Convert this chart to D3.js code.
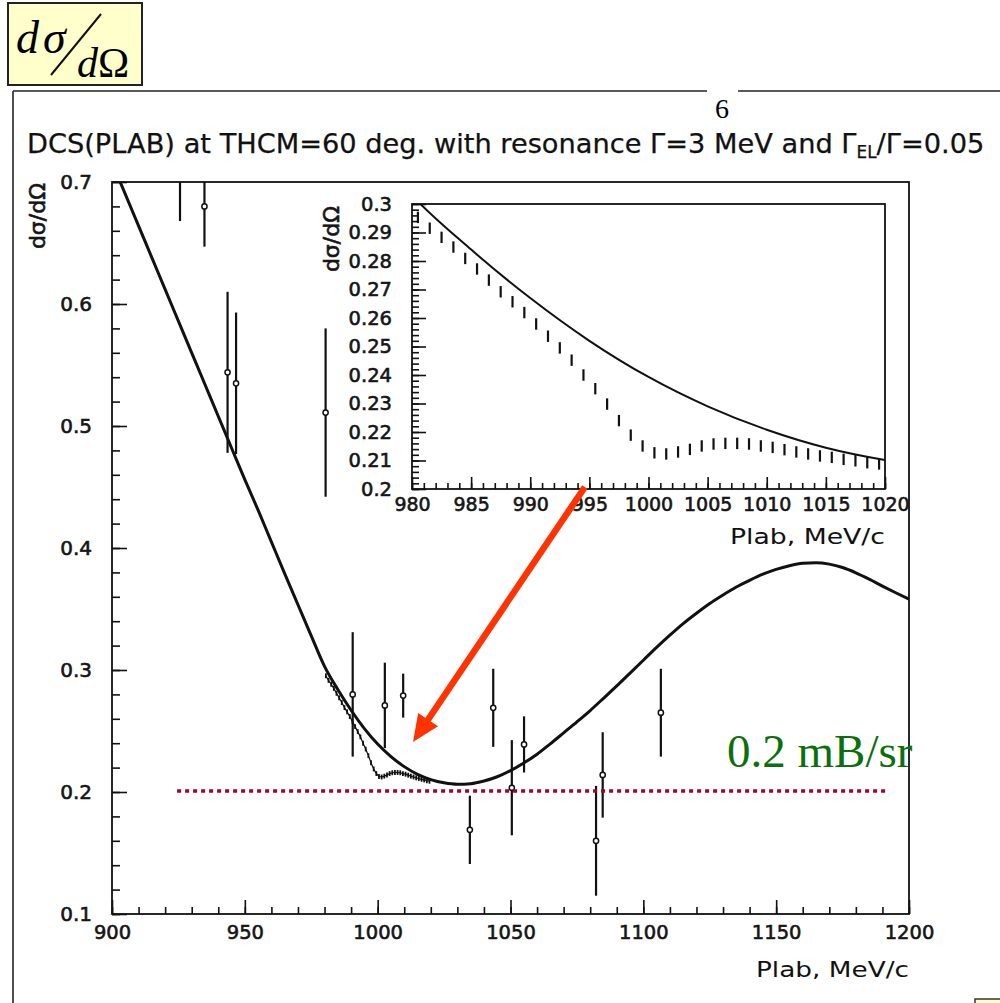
<!DOCTYPE html>
<html><head><meta charset="utf-8">
<script src="https://cdn.jsdelivr.net/npm/d3@7"></script>
<style>html,body{margin:0;padding:0;background:#fff;} svg{display:block}</style>
</head><body>
<svg id="chart" width="1000" height="1003"></svg>
<script>
// ---------------- DATA ----------------
// Smooth calculation (no resonance), Plab in MeV/c
const smoothP = [900,905,910,915,920,925,930,935,940,945,950,955,960,965,970,975,980,985,990,995,1000,1005,1010,1015,1020,1025,1030,1035,1040,1045,1050,1055,1060,1065,1070,1075,1080,1085,1090,1095,1100,1105,1110,1115,1120,1125,1130,1135,1140,1145,1150,1155,1160,1165,1170,1175,1180,1185,1190,1195,1200];
const smoothV = [0.716,0.690,0.664,0.638,0.612,0.586,0.560,0.534,0.508,0.482,0.456,0.431,0.405,0.379,0.3535,0.3280,0.3030,0.2840,0.2670,0.2520,0.2393,0.2290,0.2208,0.2145,0.2102,0.2075,0.2063,0.2068,0.2090,0.2125,0.2175,0.2238,0.2310,0.2395,0.2485,0.2575,0.2668,0.2768,0.2870,0.2975,0.3080,0.3185,0.3285,0.3380,0.3465,0.3545,0.3615,0.3680,0.3735,0.3785,0.3825,0.3855,0.3875,0.3880,0.3868,0.3840,0.3797,0.3745,0.3688,0.3633,0.3580];
// Calculation with resonance (points with small errors)
const resP = [980.5,981.5,982.5,983.5,984.5,985.5,986.5,987.5,988.5,989.5,990.5,991.5,992.5,993.5,994.5,995.5,996.5,997.5,998.5,999.5,1000.5,1001.5,1002.5,1003.5,1004.5,1005.5,1006.5,1007.5,1008.5,1009.5,1010.5,1011.5,1012.5,1013.5,1014.5,1015.5,1016.5,1017.5,1018.5,1019.5];
const resV = [0.2953,0.2915,0.2883,0.2849,0.2809,0.2772,0.2733,0.2692,0.2657,0.2619,0.2579,0.2536,0.2495,0.2452,0.2400,0.2352,0.2298,0.2240,0.2189,0.2151,0.2127,0.2123,0.2130,0.2139,0.2151,0.2158,0.2160,0.2160,0.2158,0.2151,0.2146,0.2138,0.2130,0.2123,0.2116,0.2111,0.2104,0.2099,0.2092,0.2088];
const resErr = 0.002;
// Experimental points
const expP = [925.6,934.8,943.5,946.7,980.4,990.6,1002.7,1009.6,1034.7,1043.5,1050.5,1055.1,1082.2,1084.7,1106.6];
const expV = [0.710,0.680,0.544,0.535,0.511,0.280,0.271,0.279,0.169,0.269,0.2035,0.239,0.160,0.214,0.265];
const expE = [0.042,0.033,0.066,0.058,0.069,0.051,0.035,0.018,0.028,0.032,0.039,0.023,0.045,0.035,0.036];
// Tick labels
const mainXTicks = [900,950,1000,1050,1100,1150,1200];
const mainYTicks = [0.1,0.2,0.3,0.4,0.5,0.6,0.7];
const insetXTicks = [980,985,990,995,1000,1005,1010,1015,1020];
const insetYTicks = [0.2,0.21,0.22,0.23,0.24,0.25,0.26,0.27,0.28,0.29,0.3];
// Annotations
const refLevel = 0.2, refFrom = 924.5, refTo = 1191;
const refLabel = "0.2 mB/sr";
const arrowFrom = [1078, 0.45], arrowTo = [1013.3, 0.241];
const titleText = "DCS(PLAB) at THCM=60 deg. with resonance \u0393=3 MeV and \u0393";
const pageNumber = "6";

// ---------------- DRAW ----------------
const svg = d3.select('#chart');
const FONT = "'DejaVu Sans', sans-serif";
const SERIF = "'Liberation Serif', 'Times New Roman', serif";

// page frame
svg.append('line').attr('x1',13).attr('y1',91).attr('x2',707).attr('y2',91).attr('stroke','#222').attr('stroke-width',1.6);
svg.append('line').attr('x1',738).attr('y1',91).attr('x2',1000).attr('y2',91).attr('stroke','#222').attr('stroke-width',1.6);
svg.append('line').attr('x1',13).attr('y1',91).attr('x2',13).attr('y2',1003).attr('stroke','#222').attr('stroke-width',1.6);
svg.append('text').attr('x',722).attr('y',118).attr('text-anchor','middle').attr('font-family',SERIF).attr('font-size',28).text(pageNumber);

// yellow formula box
svg.append('rect').attr('x',8).attr('y',3).attr('width',134).attr('height',82).attr('fill','#ffffcc').attr('stroke','#222').attr('stroke-width',2);
const fa = svg.append('text').attr('x',16).attr('y',53).attr('font-family',SERIF).attr('font-size',46).attr('font-style','italic');
fa.append('tspan').text('d');
fa.append('tspan').attr('dx',4).text('\u03c3');
svg.append('line').attr('x1',101).attr('y1',14).attr('x2',51).attr('y2',75).attr('stroke','#111').attr('stroke-width',2);
const fb = svg.append('text').attr('x',77).attr('y',77).attr('font-family',SERIF).attr('font-size',42);
fb.append('tspan').attr('font-style','italic').text('d');
fb.append('tspan').text('\u03a9');
// small box bottom-right
svg.append('rect').attr('x',975).attr('y',999).attr('width',40).attr('height',10).attr('fill','#ffffcc').attr('stroke','#333').attr('stroke-width',1.5);

// title
const title = svg.append('text').attr('x',27).attr('y',153).attr('font-family',FONT).attr('font-size',22).attr('fill','#111')
  .attr('stroke','#111').attr('stroke-width',0.25);
title.append('tspan').text(titleText);
title.append('tspan').attr('font-size','62%').attr('dy','0.3em').text('EL');
title.append('tspan').attr('dy','-0.19em').text('/\u0393=0.05');
{
  const w = title.node().getBBox().width;
  title.attr('font-size', 22*958/w);
}

// ---------- main plot ----------
const X0=112, X1=909, Y0=914, Y1=182;
const x = d3.scaleLinear().domain([900,1200]).range([X0,X1]);
const y = d3.scaleLinear().domain([0.1,0.7]).range([Y0,Y1]);
svg.append('clipPath').attr('id','mclip').append('rect').attr('x',X0).attr('y',Y1).attr('width',X1-X0).attr('height',Y0-Y1);

function styleAxis(g, fs){
  g.select('.domain').remove();
  g.selectAll('line').attr('stroke','#111').attr('stroke-width',1.6);
  g.selectAll('text').attr('font-family',FONT).attr('font-size',fs).attr('fill','#151515')
    .attr('stroke','#151515').attr('stroke-width',0.6);
}
// minor ticks
svg.append('g').attr('transform',`translate(0,${Y0})`).call(d3.axisBottom(x).ticks(30).tickSizeInner(-7).tickSizeOuter(0).tickFormat('')).call(g=>styleAxis(g,0));
svg.append('g').attr('transform',`translate(${X0},0)`).call(d3.axisLeft(y).ticks(30).tickSizeInner(-8).tickSizeOuter(0).tickFormat('')).call(g=>styleAxis(g,0));
// major ticks
svg.append('g').attr('transform',`translate(0,${Y0})`).call(d3.axisBottom(x).tickValues(mainXTicks).tickSizeInner(-14).tickSizeOuter(0).tickPadding(11).tickFormat(d3.format('d'))).call(g=>styleAxis(g,19.5));
svg.append('g').attr('transform',`translate(${X0},0)`).call(d3.axisLeft(y).tickValues(mainYTicks).tickSizeInner(-15).tickSizeOuter(0).tickPadding(20).tickFormat(d3.format('.1f'))).call(g=>styleAxis(g,20));
// frame
svg.append('rect').attr('x',X0).attr('y',Y1).attr('width',X1-X0).attr('height',Y0-Y1).attr('fill','none').attr('stroke','#111').attr('stroke-width',1.8);
// axis titles
svg.append('text').attr('x',X1).attr('y',977).attr('text-anchor','end').attr('font-family',FONT).attr('font-size',22).attr('fill','#111')
  .attr('textLength',153).attr('lengthAdjust','spacingAndGlyphs').text('Plab, MeV/c');
svg.append('text').attr('transform',`translate(37,${Y1+1}) rotate(-90)`).attr('text-anchor','end').attr('dy','0.35em').attr('font-family',FONT).attr('font-size',22).attr('fill','#151515').attr('stroke','#151515').attr('stroke-width',0.6).text('d\u03c3/d\u03a9');

const mplot = svg.append('g').attr('clip-path','url(#mclip)');
const smoothData = smoothP.map((p,i)=>[p,smoothV[i]]);
const resData = resP.map((p,i)=>[p,resV[i]]);
mplot.append('path').datum(smoothData).attr('fill','none').attr('stroke','#111').attr('stroke-width',3)
  .attr('d', d3.line().x(d=>x(d[0])).y(d=>y(d[1])).curve(d3.curveMonotoneX));
mplot.append('path').datum(resData).attr('fill','none').attr('stroke','#111').attr('stroke-width',1.2)
  .attr('d', d3.line().x(d=>x(d[0])).y(d=>y(d[1])));
mplot.selectAll('line.res').data(resData).enter().append('line')
  .attr('x1',d=>x(d[0])).attr('x2',d=>x(d[0])).attr('y1',d=>y(d[1]-resErr)).attr('y2',d=>y(d[1]+resErr))
  .attr('stroke','#111').attr('stroke-width',1.8);
// experimental points
const expData = expP.map((p,i)=>({p, v:expV[i], e:expE[i]}));
mplot.selectAll('line.err').data(expData).enter().append('line')
  .attr('x1',d=>x(d.p)).attr('x2',d=>x(d.p)).attr('y1',d=>y(d.v-d.e)).attr('y2',d=>y(d.v+d.e))
  .attr('stroke','#111').attr('stroke-width',2.2);
mplot.selectAll('circle.pt').data(expData).enter().append('circle')
  .attr('cx',d=>x(d.p)).attr('cy',d=>y(d.v)).attr('r',2.6)
  .attr('fill','#fff').attr('stroke','#111').attr('stroke-width',1.5);

// reference dotted line and label
svg.append('line').attr('x1',x(refFrom)).attr('x2',x(refTo)).attr('y1',y(refLevel)-1).attr('y2',y(refLevel)-1)
  .attr('stroke','#a3002c').attr('stroke-width',3.5).attr('stroke-dasharray','4,4');
svg.append('text').attr('x',727).attr('y',767).attr('font-family',SERIF).attr('font-size',47).attr('fill','#0b700b').text(refLabel);

// ---------- inset ----------
const IX0=412, IX1=885, IY0=489, IY1=204;
const xi = d3.scaleLinear().domain([980,1020]).range([IX0,IX1]);
const yi = d3.scaleLinear().domain([0.2,0.3]).range([IY0,IY1]);
svg.append('clipPath').attr('id','iclip').append('rect').attr('x',IX0).attr('y',IY1).attr('width',IX1-IX0).attr('height',IY0-IY1);
svg.append('g').attr('transform',`translate(0,${IY0})`).call(d3.axisBottom(xi).ticks(40).tickSizeInner(-6).tickSizeOuter(0).tickFormat('')).call(g=>styleAxis(g,0));
svg.append('g').attr('transform',`translate(${IX0},0)`).call(d3.axisLeft(yi).ticks(50).tickSizeInner(-7).tickSizeOuter(0).tickFormat('')).call(g=>styleAxis(g,0));
svg.append('g').attr('transform',`translate(0,${IY0})`).call(d3.axisBottom(xi).tickValues(insetXTicks).tickSizeInner(-12).tickSizeOuter(0).tickPadding(9).tickFormat(d3.format('d'))).call(g=>styleAxis(g,19));
svg.append('g').attr('transform',`translate(${IX0},0)`).call(d3.axisLeft(yi).tickValues(insetYTicks).tickSizeInner(-14).tickSizeOuter(0).tickPadding(20).tickFormat(d=>d3.format('.2f')(d).replace(/0$/,'').replace(/\.$/,''))).call(g=>styleAxis(g,19.5));
svg.append('rect').attr('x',IX0).attr('y',IY1).attr('width',IX1-IX0).attr('height',IY0-IY1).attr('fill','none').attr('stroke','#111').attr('stroke-width',1.8);
svg.append('text').attr('x',IX1).attr('y',544).attr('text-anchor','end').attr('font-family',FONT).attr('font-size',22).attr('fill','#111')
  .attr('textLength',155).attr('lengthAdjust','spacingAndGlyphs').text('Plab, MeV/c');
svg.append('text').attr('transform',`translate(331,${IY1+2}) rotate(-90)`).attr('text-anchor','end').attr('dy','0.35em').attr('font-family',FONT).attr('font-size',22).attr('fill','#151515').attr('stroke','#151515').attr('stroke-width',0.6).text('d\u03c3/d\u03a9');

const iplot = svg.append('g').attr('clip-path','url(#iclip)');
iplot.append('path').datum(smoothData).attr('fill','none').attr('stroke','#111').attr('stroke-width',2)
  .attr('d', d3.line().x(d=>xi(d[0])).y(d=>yi(d[1])).curve(d3.curveMonotoneX));
iplot.selectAll('line.res').data(resData).enter().append('line')
  .attr('x1',d=>xi(d[0])).attr('x2',d=>xi(d[0])).attr('y1',d=>yi(d[1]-resErr)).attr('y2',d=>yi(d[1]+resErr))
  .attr('stroke','#111').attr('stroke-width',2.2);

// ---------- red arrow ----------
{
  const ax0 = x(arrowFrom[0]), ay0 = y(arrowFrom[1]), ax1 = x(arrowTo[0]), ay1 = y(arrowTo[1]);
  const dx = ax1-ax0, dy = ay1-ay0, L = Math.hypot(dx,dy), ux = dx/L, uy = dy/L;
  const hl = 27, hw = 12;
  const bx = ax1-ux*hl, by = ay1-uy*hl;
  svg.append('line').attr('x1',ax0).attr('y1',ay0).attr('x2',bx+ux*2).attr('y2',by+uy*2).attr('stroke','#ff3300').attr('stroke-width',6.5);
  svg.append('path').attr('fill','#ff3300')
    .attr('d', `M${ax1},${ay1}L${bx-uy*hw},${by+ux*hw}L${bx+uy*hw},${by-ux*hw}Z`);
}
</script>
</body></html>
